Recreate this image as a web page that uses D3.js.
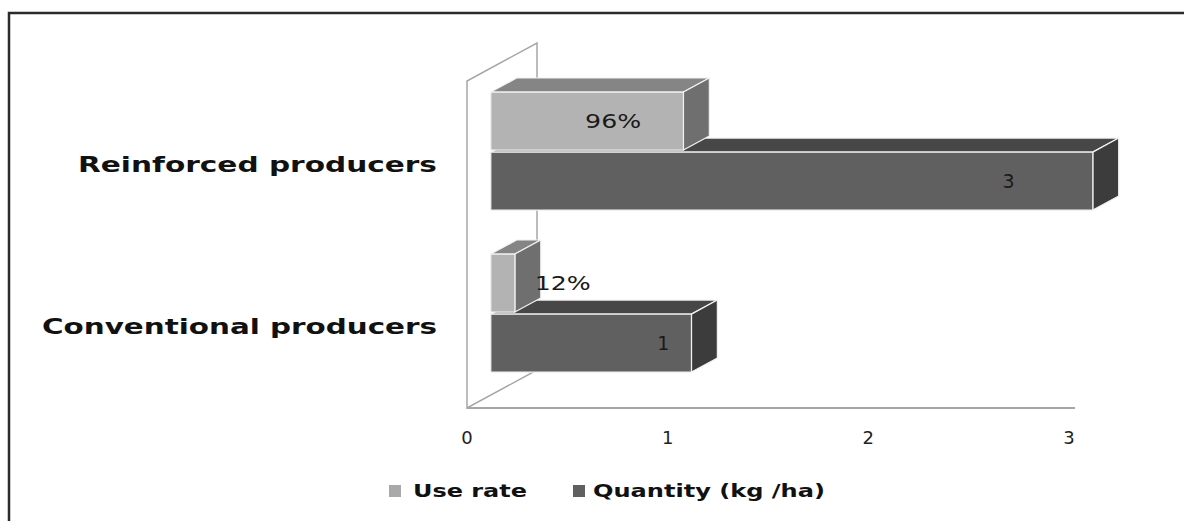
<!DOCTYPE html>
<html lang="en">
<head>
  <meta charset="UTF-8">
  <title>Use rate and quantity by producer type</title>
  <script src="https://d3js.org/d3.v7.min.js"></script>
  <style>
    body { margin: 0; background: #fff; }
    svg { display: block; font-family: 'DejaVu Sans', Verdana, sans-serif; }
  </style>
</head>
<body>
  <div id="chart"></div>
  <script>
    // data
    const categories = ['Reinforced producers', 'Conventional producers'];
    const seriesNames = ['Use rate', 'Quantity (kg /ha)'];
    const useRate = [0.96, 0.12];
    const quantity = [3, 1];
    const ticks = [0, 1, 2, 3];

    const width = 1184, height = 521;
    const svg = d3.select('#chart').append('svg')
      .attr('width', width).attr('height', height);

    // outer frame (only top and left edges are inside the picture)
    svg.append('path')
      .attr('d', `M9,${height} V13 H${width}`)
      .attr('fill', 'none').attr('stroke', '#2b2b2b').attr('stroke-width', 2.5);

    // front plane scales
    const x = d3.scaleLinear().domain([0, 3]).range([467, 1069]);
    const y = d3.scaleBand().domain(categories).range([83, 407]);
    const inner = d3.scaleBand().domain(seriesNames).range([-59, 59]).paddingInner(0.035);

    // depth direction of the 3d box
    const depth = [70, -38];
    const dFront = 0.34, dBack = 0.71;
    const off = t => [depth[0] * t, depth[1] * t];

    const floorY = 408;

    // side wall
    const wall = svg.append('g').attr('fill', 'none').attr('stroke', '#a6a6a6').attr('stroke-width', 1.5);
    wall.append('path')
      .attr('d', `M${x(0)},${floorY} V81 L${x(0) + depth[0]},${81 + depth[1]} V${floorY + depth[1]} Z`)
      .attr('fill', '#fff');
    // floor front edge
    svg.append('line')
      .attr('x1', x(0)).attr('x2', 1075)
      .attr('y1', floorY).attr('y2', floorY)
      .attr('stroke', '#a6a6a6').attr('stroke-width', 2);

    const colors = {
      'Use rate': { front: '#b3b3b3', top: '#858585', side: '#6f6f6f' },
      'Quantity (kg /ha)': { front: '#606060', top: '#474747', side: '#3c3c3c' }
    };

    const rows = [];
    categories.forEach((c, i) => {
      rows.push({ cat: c, series: 'Use rate', value: useRate[i], label: Math.round(useRate[i] * 100) + '%' });
      rows.push({ cat: c, series: 'Quantity (kg /ha)', value: quantity[i], label: String(quantity[i]) });
    });

    // draw from bottom to top so upper faces overlap correctly
    const drawOrder = rows.slice().sort((a, b) =>
      (y(b.cat) + inner(b.series)) - (y(a.cat) + inner(a.series)));

    const f = off(dFront), bk = off(dBack);
    const bars = svg.append('g');
    const labels = svg.append('g');
    drawOrder.forEach(d => {
      const x0 = x(0) + f[0];
      const x1 = x(d.value) + f[0];
      const yTop = y(d.cat) + y.bandwidth() / 2 + inner(d.series) + f[1];
      const yBot = yTop + inner.bandwidth();
      const dx = bk[0] - f[0], dy = bk[1] - f[1];
      const col = colors[d.series];
      const g = bars.append('g').attr('stroke', '#f2f2f2').attr('stroke-width', 1.2).attr('stroke-linejoin', 'round');
      g.append('path').attr('fill', col.top)
        .attr('d', `M${x0},${yTop} L${x0 + dx},${yTop + dy} H${x1 + dx} L${x1},${yTop} Z`);
      g.append('path').attr('fill', col.side)
        .attr('d', `M${x1},${yTop} L${x1 + dx},${yTop + dy} V${yBot + dy} L${x1},${yBot} Z`);
      g.append('rect').attr('fill', col.front)
        .attr('x', x0).attr('y', yTop).attr('width', x1 - x0).attr('height', yBot - yTop);

      // data label
      const len = x1 - x0;
      let lx, anchor = 'middle';
      if (len < 60) { lx = x1 + dx - 6; anchor = 'start'; }
      else if (d.series === 'Use rate') lx = x0 + len * 0.635;
      else lx = x0 + len * 0.86;
      const t = labels.append('text')
        .attr('x', lx).attr('y', (yTop + yBot) / 2 + 7)
        .attr('text-anchor', anchor)
        .attr('font-size', 19).attr('fill', '#1a1a1a')
        .text(d.label);
      if (d.label.length > 1) t.attr('textLength', 56).attr('lengthAdjust', 'spacingAndGlyphs');
    });

    // value axis tick labels
    svg.append('g').selectAll('text').data(ticks).join('text')
      .attr('x', d => x(d)).attr('y', 444)
      .attr('text-anchor', 'middle').attr('font-size', 18).attr('fill', '#222')
      .text(d => d);

    // category labels (front plane)
    const catWidths = [359, 395];
    svg.append('g').selectAll('text').data(categories).join('text')
      .attr('x', 437).attr('y', d => y(d) + y.bandwidth() / 2 + 8)
      .attr('text-anchor', 'end').attr('font-size', 21).attr('font-weight', 'bold')
      .attr('fill', '#111')
      .attr('textLength', (d, i) => catWidths[i]).attr('lengthAdjust', 'spacingAndGlyphs')
      .text(d => d);

    // legend
    const legend = svg.append('g');
    const legendItems = [
      { name: seriesNames[0], sx: 389, tx: 413, w: 114, color: '#a9a9a9' },
      { name: seriesNames[1], sx: 573, tx: 593, w: 232, color: '#606060' }
    ];
    legendItems.forEach(it => {
      legend.append('rect').attr('x', it.sx).attr('y', 485).attr('width', 12).attr('height', 12)
        .attr('fill', it.color);
      legend.append('text').attr('x', it.tx).attr('y', 497)
        .attr('font-size', 17).attr('font-weight', 'bold').attr('fill', '#111')
        .attr('textLength', it.w).attr('lengthAdjust', 'spacingAndGlyphs')
        .text(it.name);
    });
  </script>
</body>
</html>
